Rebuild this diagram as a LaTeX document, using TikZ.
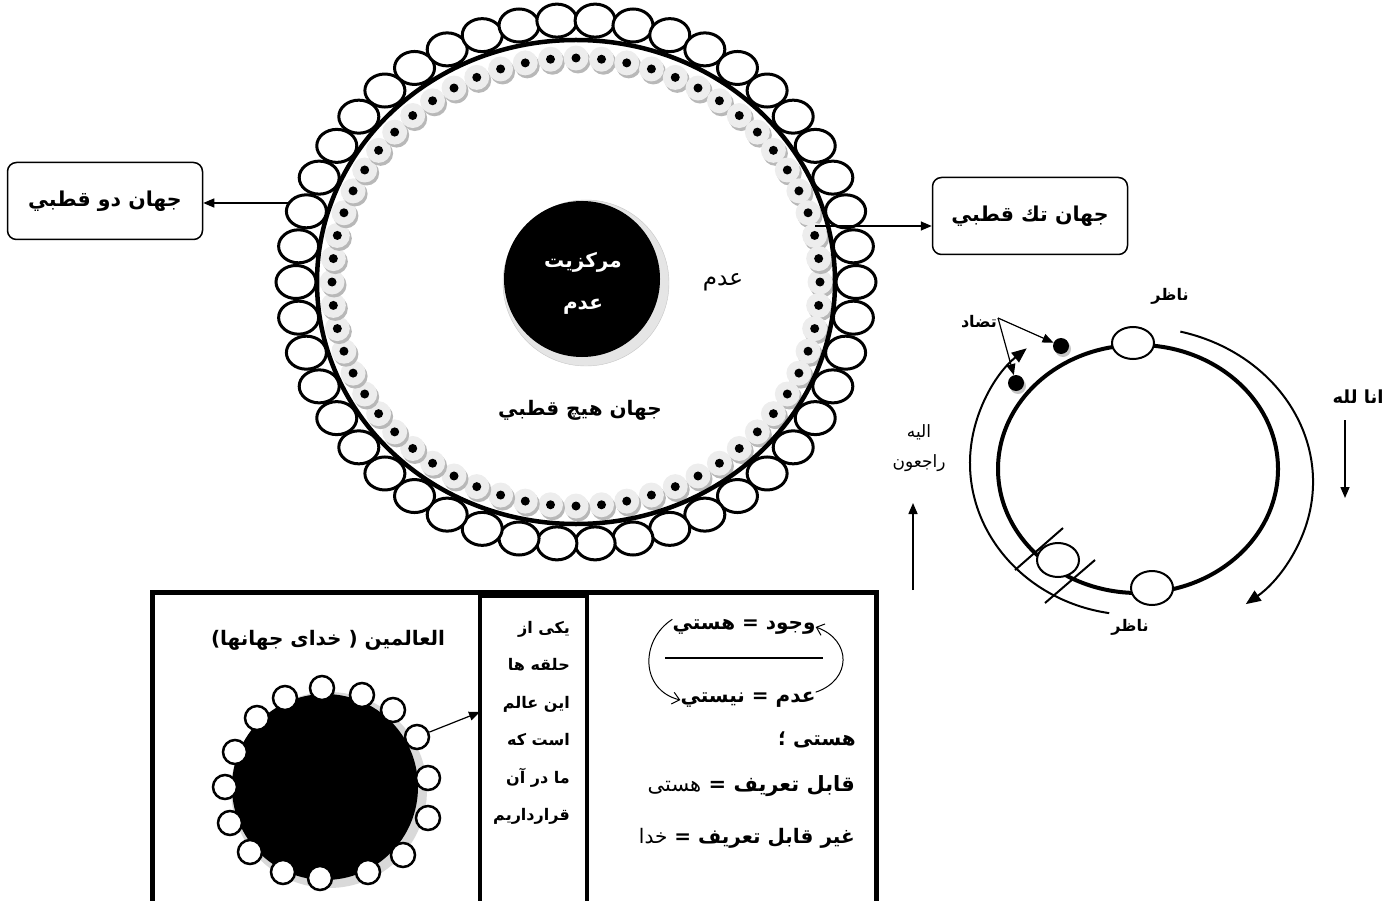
\documentclass[tikz,border=0pt]{standalone}
\usepackage{fontspec}
\setmainfont{DejaVu Sans}
\newfontfamily\fa[Script=Arabic]{DejaVu Sans}
\newfontfamily\lat{DejaVu Sans}
\TeXXeTstate=1
\usetikzlibrary{arrows.meta,positioning}
\definecolor{beadgray}{gray}{0.93}
\definecolor{shadowgray}{gray}{0.72}

\begin{document}
\begin{tikzpicture}[x=1pt,y=-1pt,
  lab/.style={inner sep=0pt, font=\fa\bfseries\fontsize{20}{24}\selectfont},
  plain/.style={inner sep=0pt, font=\fa\fontsize{20}{24}\selectfont},
  small/.style={inner sep=0pt, font=\fa\bfseries\fontsize{16}{19}\selectfont},
  polebox/.style={draw, line width=1.5pt, rounded corners=9pt, minimum width=195pt, minimum height=77pt,
    font=\fa\bfseries\fontsize{20.5}{24}\selectfont},
  arr/.style={line width=1.5pt, -{Triangle[length=11pt,width=9pt]}},
  bigarr/.style={line width=2pt, -{Triangle[length=15pt,width=12pt]}},
  dotn/.style={circle, fill=black, minimum size=16pt, inner sep=0pt},
  ringlet/.style={circle, draw, fill=white, line width=2.5pt, minimum size=24pt, inner sep=0pt}]
  \useasboundingbox (0,0) rectangle (1391,901);

  % big world: beads, rim, outer ellipses
  \foreach \a in {0,6,...,354} {
    \fill[shadowgray] ({578+244*cos(\a)},{285+224*sin(\a)}) circle (12.5);
    \fill[beadgray] ({576+244*cos(\a)},{282+224*sin(\a)}) circle (12.5);
    \fill ({576+244*cos(\a)},{282+224*sin(\a)}) circle (4.5);
  }
  \draw[line width=4.5pt] (576,282) ellipse [x radius=259, y radius=242];
  \coordinate (lpole) at (292,203);
  \coordinate (rpole) at (815,226);
  \node[polebox] (dbox) at (105,201) {\beginR جهان دو قطبي\endR};
  \node[polebox] (tbox) at (1030,216) {\beginR جهان تك قطبي\endR};
  \draw[arr] (lpole) -- (lpole -| dbox.east);
  \foreach \i in {0,...,45}
    \draw[line width=3pt, fill=white] ({576+280*cos(\i*360/46)},{282+262*sin(\i*360/46)}) ellipse [x radius=20, y radius=16.5];
  \draw[arr] (rpole) -- (rpole -| tbox.west);

  % core
  \fill[gray!20, draw=gray!45] (586,283) circle (83);
  \fill (582,279) circle (78);
  \node[lab, text=white, align=center, font=\fa\bfseries\fontsize{20}{42}\selectfont] (core) at (583,283) {مركزيت\\عدم};
  \node[plain, font=\fa\fontsize{23}{27}\selectfont] (adam) at (723,282) {عدم};
  \node[lab] (hich) at (580,410) {\beginR جهان هيچ قطبي\endR};

  % one-pole cycle
  \draw[line width=4pt] (1138,469) ellipse [x radius=140, y radius=124];
  \draw[line width=2pt] (1015,570) -- (1063,528);
  \draw[line width=2pt] (1045,603) -- (1095,560);
  \draw[line width=2pt, fill=white] (1133,343) ellipse [x radius=21, y radius=16];
  \draw[line width=2pt, fill=white] (1152,588) ellipse [x radius=21, y radius=17];
  \draw[line width=2pt, fill=white] (1058,560) ellipse [x radius=21, y radius=17];
  \draw[bigarr] ({1135+165*cos(99)},{463+152*sin(99)}) arc[start angle=99, end angle=229, x radius=165, y radius=152];
  \draw[bigarr] ({1138+175*cos(-76)},{482+155*sin(-76)}) arc[start angle=-76, end angle=52, x radius=175, y radius=155];
  \fill[gray!45] (1063,349) circle (8);
  \fill[gray!45] (1018,386) circle (8);
  \node[dotn] (dotA) at (1061,346) {};
  \node[dotn] (dotB) at (1016,383) {};
  \node[small] (tazad) at (979,322) {تضاد};
  \coordinate (tzsrc) at (998,318);
  \draw[arr, line width=1.2pt] (tzsrc) -- (dotA);
  \draw[arr, line width=1.2pt] (tzsrc) -- (dotB);
  \node[small] (nazer1) at (1170,296) {ناظر};
  \node[small] (nazer2) at (1130,627) {ناظر};
  \node[lab, font=\fa\bfseries\fontsize{18}{22}\selectfont] (ana) at (1358,397) {\beginR انا لله\endR};
  \coordinate (down1) at (1345,420);
  \coordinate (down2) at (1345,498);
  \draw[arr] (down1) -- (down2);
  \node[plain, align=center, font=\fa\fontsize{17}{30}\selectfont] (raji) at (919,448) {اليه\\راجعون};
  \coordinate (up1) at (913,590);
  \coordinate (up2) at (913,503);
  \draw[arr] (up1) -- (up2);

  % lower frame
  \draw[line width=5pt] (152,905) -- (152,592) -- (876,592) -- (876,905);
  \draw[line width=3.5pt] (480,905) -- (480,596) -- (587,596) -- (587,905);

  % worlds disk
  \node[lab] (alamin) at (328,640) {\beginR العالمين {\lat)} خداى جهانها{\lat(}\endR};
  \fill[gray!30] (329,790) circle (98);
  \fill (325,787) circle (93);
  \foreach \x/\y [count=\i] in {322/688,362/695,393/710,417/737,428/778,428/818,403/855,368/872,
      320/878,283/872,250/852,230/823,225/787,235/752,257/718,285/698}
    \node[ringlet] (c\i) at (\x,\y) {};
  \coordinate (midL) at (480,712);
  \draw[arr, line width=1.2pt] (c4) -- (midL);
  \node[lab, align=right, anchor=north east, font=\fa\bfseries\fontsize{16}{37.5}\selectfont] (halqe) at (570,621)
    {\beginR يكى از\endR\\\beginR حلقه ها\endR\\\beginR اين عالم\endR\\\beginR است كه\endR\\\beginR ما در آن\endR\\قرارداريم};

  % being and nothing
  \node[lab] (wujud) at (744,627) {\beginR وجود = هستي\endR};
  \draw[line width=1.2pt] (665,658) -- (823,658);
  \node[lab] (nist) at (748,700) {\beginR عدم = نيستي\endR};
  \draw[line width=1pt, -{Straight Barb[length=7pt,width=12pt]}] (wujud.north west) .. controls (640,640) and (640,690) .. (nist.west);
  \draw[line width=1pt, -{Straight Barb[length=7pt,width=12pt]}] (nist.north east) .. controls (852,680) and (852,640) .. (wujud.east);
  \node[lab, anchor=east] (hasti) at (856,740) {\beginR هستى ؛\endR};
  \node[lab, anchor=east, font=\fa\bfseries\fontsize{21}{24}\selectfont] (qabel) at (855,786) {\beginR قابل تعريف = {\mdseries هستى}\endR};
  \node[lab, anchor=east] (gheir) at (855,838) {\beginR غير قابل تعريف = {\mdseries خدا}\endR};
\end{tikzpicture}
\end{document}
